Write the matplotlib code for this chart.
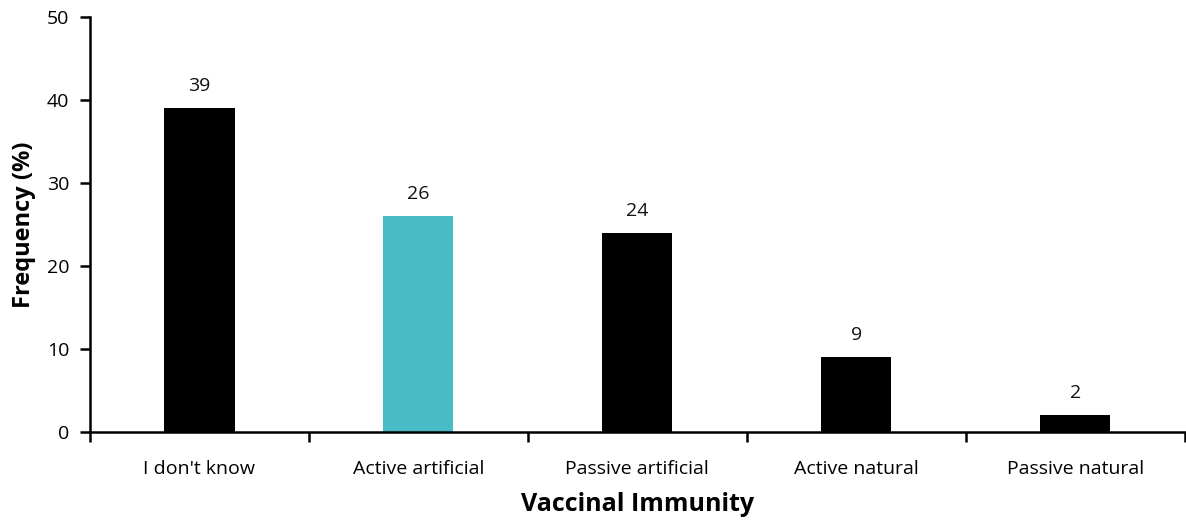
import matplotlib
matplotlib.use("Agg")
import matplotlib.pyplot as plt
from matplotlib.ticker import FixedLocator, NullFormatter

categories = ["I don't know", "Active artificial", "Passive artificial", "Active natural", "Passive natural"]
values = [39, 26, 24, 9, 2]
colors = ["#000000", "#48BBC5", "#000000", "#000000", "#000000"]
yticks = [0, 10, 20, 30, 40, 50]

plt.rcParams['font.family'] = ['Open Sans', 'DejaVu Sans']

fig = plt.figure(figsize=(11.86, 5.21), dpi=100)
ax = fig.add_axes([0.0759, 0.1708, 0.923, 0.7966])

x = list(range(len(categories)))
bars = ax.bar(x, values, width=0.32, color=colors)
for xi, v in zip(x, values):
    ax.text(xi, v + 1.6, str(v), ha='center', va='bottom', fontsize=14, color='#111111')

ax.set_xlim(-0.5, len(categories) - 0.5)
ax.set_ylim(0, 50)
ax.set_yticks(yticks)
ax.set_xticks(x)
ax.set_xticklabels(categories, fontsize=14)
ax.xaxis.set_minor_locator(FixedLocator([i - 0.5 for i in range(len(categories) + 1)]))
ax.xaxis.set_minor_formatter(NullFormatter())
ax.tick_params(axis='x', which='major', length=0, pad=20)
ax.tick_params(axis='x', which='minor', length=7, width=1.8, direction='out')
ax.tick_params(axis='y', length=7, width=1.8, direction='out', labelsize=14, pad=8)

for s in ['top', 'right']:
    ax.spines[s].set_visible(False)
for s in ['left', 'bottom']:
    ax.spines[s].set_linewidth(1.8)

ax.set_ylabel("Frequency (%)", fontsize=17, fontweight='bold', labelpad=8)
ax.set_xlabel("Vaccinal Immunity", fontsize=18, fontweight='bold', labelpad=10)

fig.savefig("out.png", dpi=100)
